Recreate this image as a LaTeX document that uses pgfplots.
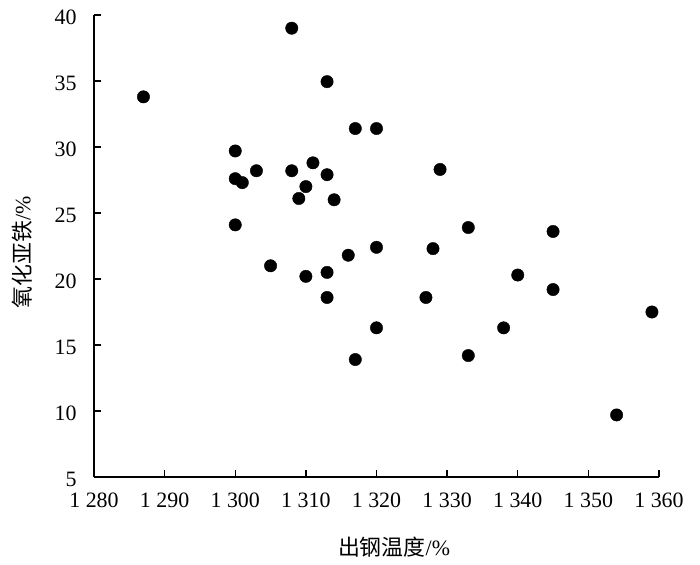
\documentclass[border=0pt]{standalone}
\usepackage{fontspec}
\setmainfont{Liberation Serif}
\newfontfamily\cjk{Noto Sans CJK SC}
\usepackage{pgfplots}
\pgfplotsset{compat=1.18}
\begin{document}
\begin{tikzpicture}
\begin{axis}[
  scale only axis,
  width=565bp, height=462bp,
  xmin=1280, xmax=1360, ymin=5, ymax=40,
  axis lines*=left,
  axis line style={line width=1.8bp},
  tick style={line width=1.3bp, black},
  major tick length=7bp,
  tick align=inside,
  xtick={1280,1290,...,1360},
  xticklabels={1 280,1 290,1 300,1 310,1 320,1 330,1 340,1 350,1 360},
  ytick={5,10,...,40},
  /pgf/number format/assume math mode=true,
  tick label style={font=\fontsize{22}{26}\selectfont},
  xticklabel style={yshift=-12bp},
  yticklabel style={xshift=-14bp, yshift=-2bp},
  xlabel={\cjk 出钢温度\rmfamily/\%},
  ylabel={\cjk 氧化亚铁\rmfamily/\%},
  label style={font=\fontsize{22}{26}\selectfont},
  xlabel style={at={(axis description cs:0.531,-0.1515)}, anchor=center},
  ylabel style={at={(axis description cs:-0.1274,0.487)}, anchor=center},
  clip=false,
]
\addplot[only marks, mark=*, mark size=6.2bp, black] coordinates {
(1287,33.8) (1308,39.0) (1313,34.95) (1317,31.4) (1320,31.4)
(1300,29.7) (1300,27.6) (1301,27.3) (1303,28.2) (1308,28.2)
(1311,28.8) (1313,27.9) (1310,27.0) (1309,26.1) (1314,26.0)
(1300,24.1) (1329,28.3) (1333,23.9) (1345,23.6) (1320,22.4)
(1328,22.3) (1316,21.8) (1305,21.0) (1310,20.2) (1313,20.5)
(1340,20.3) (1345,19.2) (1313,18.6) (1327,18.6) (1320,16.3)
(1338,16.3) (1359,17.5) (1317,13.9) (1333,14.2) (1354,9.7)
};
\end{axis}
\pgfresetboundingbox
\path (-94bp,-88bp) rectangle (606bp,477bp);
\end{tikzpicture}
\end{document}
